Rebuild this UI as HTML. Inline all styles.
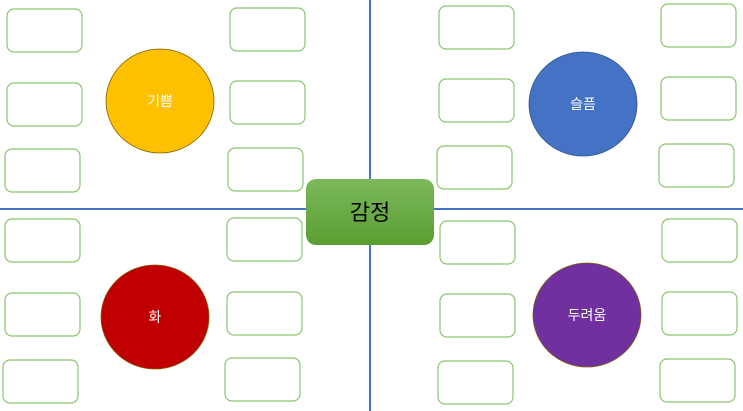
<!DOCTYPE html>
<html><head><meta charset="utf-8"><style>html,body{margin:0;padding:0;background:#fff;width:743px;height:411px;overflow:hidden}</style></head>
<body>
<svg width="743" height="411" viewBox="0 0 743 411" xmlns="http://www.w3.org/2000/svg" font-family="Liberation Sans, Noto Sans CJK KR, NanumGothic, sans-serif">
<defs><linearGradient id="g" x1="0" y1="0" x2="0" y2="1"><stop offset="0" stop-color="#7cb95c"/><stop offset="1" stop-color="#5a9e31"/></linearGradient></defs>
<line x1="370" y1="0" x2="370" y2="411" stroke="#4472c4" stroke-width="2"/>
<line x1="0" y1="209" x2="743" y2="209" stroke="#4472c4" stroke-width="2"/>
<g fill="#fff" stroke="#8cc56e" stroke-width="1.2">
<rect x="7" y="9" width="75" height="43" rx="7"/><rect x="7" y="83" width="75" height="43" rx="7"/><rect x="5" y="149" width="75" height="43" rx="7"/>
<rect x="230" y="8" width="75" height="43" rx="7"/><rect x="230" y="81" width="75" height="43" rx="7"/><rect x="228" y="148" width="75" height="43" rx="7"/>
<rect x="439" y="6" width="75" height="43" rx="7"/><rect x="439" y="79" width="75" height="43" rx="7"/><rect x="437" y="146" width="75" height="43" rx="7"/>
<rect x="661" y="4" width="75" height="43" rx="7"/><rect x="661" y="77" width="75" height="43" rx="7"/><rect x="659" y="144" width="75" height="43" rx="7"/>
<rect x="5" y="219" width="75" height="43" rx="7"/><rect x="5" y="293" width="75" height="43" rx="7"/><rect x="3" y="360" width="75" height="43" rx="7"/>
<rect x="227" y="218" width="75" height="43" rx="7"/><rect x="227" y="292" width="75" height="43" rx="7"/><rect x="225" y="358" width="75" height="43" rx="7"/>
<rect x="440" y="221" width="75" height="43" rx="7"/><rect x="440" y="294" width="75" height="43" rx="7"/><rect x="438" y="361" width="75" height="43" rx="7"/>
<rect x="662" y="219" width="75" height="43" rx="7"/><rect x="662" y="292" width="75" height="43" rx="7"/><rect x="660" y="359" width="75" height="43" rx="7"/>
</g>
<g stroke="#7f6000" stroke-width="0.8">
<ellipse cx="160" cy="101" rx="54" ry="52" fill="#ffc000"/>
<ellipse cx="583" cy="104" rx="54" ry="52" fill="#4472c4" stroke="#2f528f"/>
<ellipse cx="155" cy="317" rx="54" ry="52" fill="#c00000"/>
<ellipse cx="587" cy="315" rx="54" ry="52" fill="#7030a0"/>
</g>
<g fill="#fff" font-size="14" text-anchor="middle">
<text x="160" y="106">기쁨</text><text x="583" y="109">슬픔</text><text x="155" y="322">화</text><text x="587" y="320">두려움</text>
</g>
<rect x="306" y="179" width="128" height="66" rx="10" fill="url(#g)"/>
<text x="370" y="220" font-size="22" text-anchor="middle" fill="#000">감정</text>
</svg>
</body></html>
